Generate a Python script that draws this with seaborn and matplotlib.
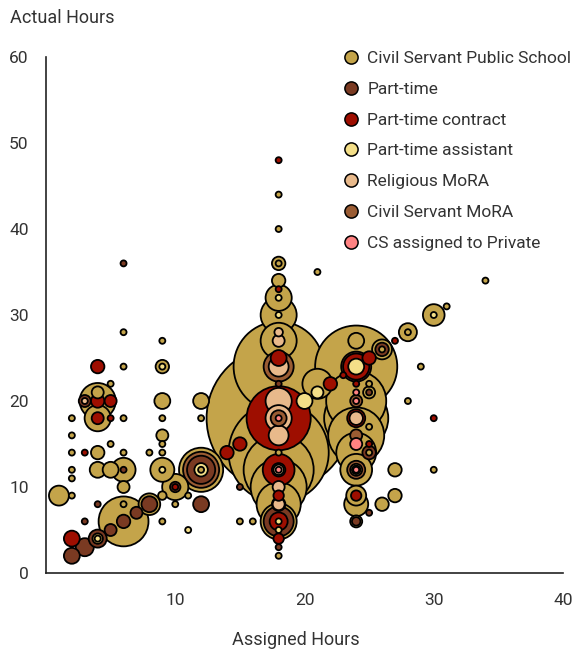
import pandas as pd
import matplotlib.pyplot as plt
import seaborn as sns
from matplotlib.lines import Line2D

sns.set_style("white")
plt.rcParams['font.family'] = ['Roboto', 'DejaVu Sans']

# categorias e cores
status_order = ['Civil Servant Public School', 'Part-time', 'Part-time contract',
                'Part-time assistant', 'Religious MoRA', 'Civil Servant MoRA',
                'CS assigned to Private']
status_colors = ['#C4A44A', '#7A3A22', '#9E0E00', '#F4DF88', '#E8B98B', '#9A5C33', '#FF8282']

# cada categoria: horas atribuídas (x), horas reais (y), número de professores (n)
cs_public_x = [1, 2, 2, 2, 2, 2, 2, 4, 4, 4, 4, 4, 4, 5, 5, 5,
               6, 6, 6, 6, 6, 6, 6, 6, 8, 8, 9, 9, 9, 9, 9, 9, 9, 9, 9, 9,
               10, 10, 11, 12, 12, 12, 12, 15, 16,
               18, 18, 18, 18, 18, 18, 18, 18, 18, 18, 18, 18, 18, 18, 18, 18, 18,
               21, 21, 24, 24, 24, 24, 24, 24, 24, 24, 24, 24, 24,
               25, 25, 25, 25, 26, 26, 26, 27, 27, 28, 28, 28, 29, 30, 30, 31, 34]
cs_public_y = [9, 18, 16, 14, 12, 11, 9, 20, 21, 18, 14, 12, 4, 22, 15, 12,
               28, 24, 18, 14, 12, 10, 8, 6, 14, 8, 27, 24, 20, 18, 16, 15, 14, 12, 9, 6,
               10, 8, 9, 20, 18, 12, 12, 6, 6,
               44, 40, 36, 36, 34, 32, 30, 27, 24, 18, 14, 12, 10, 8, 6, 14, 2,
               22, 35, 24, 20, 18, 16, 14, 12, 8, 27, 12, 9, 6,
               22, 21, 17, 14, 26, 26, 8, 12, 9, 28, 28, 20, 24, 30, 12, 31, 34]
cs_public_n = [11, 1, 1, 1, 1, 1, 1, 36, 4, 19, 5, 7, 3, 1, 1, 7,
               1, 1, 1, 1, 16, 4, 1, 69, 1, 13, 1, 5, 7, 1, 4, 1, 1, 16, 2, 1,
               19, 1, 1, 7, 1, 54, 1, 1, 1,
               1, 1, 5, 1, 5, 19, 36, 36, 225, 576, 278, 136, 87, 54, 36, 1, 1,
               25, 1, 187, 100, 114, 87, 44, 28, 16, 7, 4, 11, 4,
               1, 4, 1, 1, 11, 1, 5, 5, 5, 9, 1, 1, 1, 13, 1, 1, 1]

part_time_x = [2, 3, 3, 3, 4, 4, 5, 6, 6, 6, 7, 8, 10, 12, 12, 15,
               18, 18, 18, 24, 24, 25, 25, 25, 26]
part_time_y = [2, 20, 6, 3, 8, 4, 5, 36, 12, 6, 7, 8, 10, 12, 8, 10,
               22, 6, 3, 24, 6, 21, 14, 7, 26]
part_time_n = [7, 4, 1, 9, 1, 9, 4, 1, 1, 5, 4, 7, 3, 22, 7, 1,
               1, 25, 1, 25, 2, 1, 5, 1, 5]

contract_x = [2, 3, 4, 4, 4, 5, 5, 10, 14, 15,
              18, 18, 18, 18, 18, 18, 18, 18, 18,
              22, 23, 24, 24, 24, 24, 25, 25, 27, 30]
contract_y = [4, 14, 20, 18, 24, 20, 18, 10, 14, 15,
              48, 33, 25, 18, 12, 9, 8, 6, 4,
              22, 23, 24, 22, 18, 9, 25, 15, 27, 18]
contract_n = [7, 1, 5, 4, 5, 4, 1, 1, 5, 5,
              1, 1, 7, 114, 28, 3, 5, 9, 3,
              5, 1, 19, 1, 9, 3, 5, 1, 1, 1]

assistant_x = [4, 9, 9, 11, 12, 18, 18, 18, 18, 20, 21, 24, 24, 30]
assistant_y = [4, 24, 12, 5, 12, 32, 30, 6, 5, 20, 21, 24, 12, 30]
assistant_n = [1, 1, 1, 1, 5, 1, 1, 1, 1, 7, 4, 7, 2, 1]

religious_x = [3, 18, 18, 18, 18, 18, 18, 18, 18, 18, 24]
religious_y = [20, 28, 27, 24, 20, 18, 16, 12, 10, 8, 18]
religious_n = [1, 2, 4, 11, 19, 19, 11, 3, 4, 4, 5]

cs_mora_x = [12, 18, 18, 18, 24, 24, 24]
cs_mora_y = [12, 24, 18, 12, 20, 16, 12]
cs_mora_n = [36, 25, 7, 5, 4, 4, 9]

cs_private_x = [18, 18, 24, 24, 24, 24]
cs_private_y = [18, 12, 21, 20, 15, 12]
cs_private_n = [1, 1, 1, 1, 4, 1]

groups = [(cs_public_x, cs_public_y, cs_public_n),
          (part_time_x, part_time_y, part_time_n),
          (contract_x, contract_y, contract_n),
          (assistant_x, assistant_y, assistant_n),
          (religious_x, religious_y, religious_n),
          (cs_mora_x, cs_mora_y, cs_mora_n),
          (cs_private_x, cs_private_y, cs_private_n)]

frames = []
for name, (gx, gy, gn) in zip(status_order, groups):
    frames.append(pd.DataFrame({'assigned': gx, 'actual': gy, 'teachers': gn, 'status': name}))
df = pd.concat(frames, ignore_index=True)
# bolhas grandes primeiro, as pequenas ficam por cima
df = df.sort_values('teachers', ascending=False, kind='stable')

fig = plt.figure(figsize=(5.88, 6.52), dpi=100)
ax = fig.add_axes([46 / 588, 1 - 573 / 652, (563 - 46) / 588, (573 - 57) / 652])

smax = df['teachers'].max()
sns.scatterplot(data=df, x='assigned', y='actual', hue='status', hue_order=status_order,
                palette=status_colors, size='teachers', sizes=(0, 18.7 * smax),
                size_norm=(0, smax), edgecolor='black', linewidth=1.3, alpha=1,
                legend=False, ax=ax)

ax.set_xlim(0, 40)
ax.set_ylim(0, 60)
ax.set_xticks([10, 20, 30, 40])
ax.set_yticks(range(0, 61, 10))
ax.set_xlabel('')
ax.set_ylabel('')
for s in ['top', 'right']:
    ax.spines[s].set_visible(False)
for s in ['left', 'bottom']:
    ax.spines[s].set_color('#222222')
    ax.spines[s].set_linewidth(1.2)
ax.tick_params(axis='both', direction='inout', length=7, width=1.1, color='#222222',
               labelsize=12.5, labelcolor='#333333')
ax.tick_params(axis='x', pad=11)
ax.tick_params(axis='y', pad=9)

fig.text(10 / 588, 1 - 18 / 652, 'Actual Hours', fontsize=13, color='#333333', va='center')
fig.text(296 / 588, 1 - 640 / 652, 'Assigned Hours', fontsize=13, color='#333333',
         va='center', ha='center')

handles = [Line2D([], [], marker='o', linestyle='', markersize=9.5, markerfacecolor=c,
                  markeredgecolor='black', markeredgewidth=1.1) for c in status_colors]
fig.legend(handles, status_order, loc='upper left', bbox_to_anchor=(341 / 588, 1 - 51 / 652),
           frameon=False, fontsize=12.5, labelcolor='#333333', handletextpad=0.32,
           labelspacing=0.9, handlelength=1.2, borderaxespad=0, borderpad=0)

fig.savefig('out.png', dpi=100)
